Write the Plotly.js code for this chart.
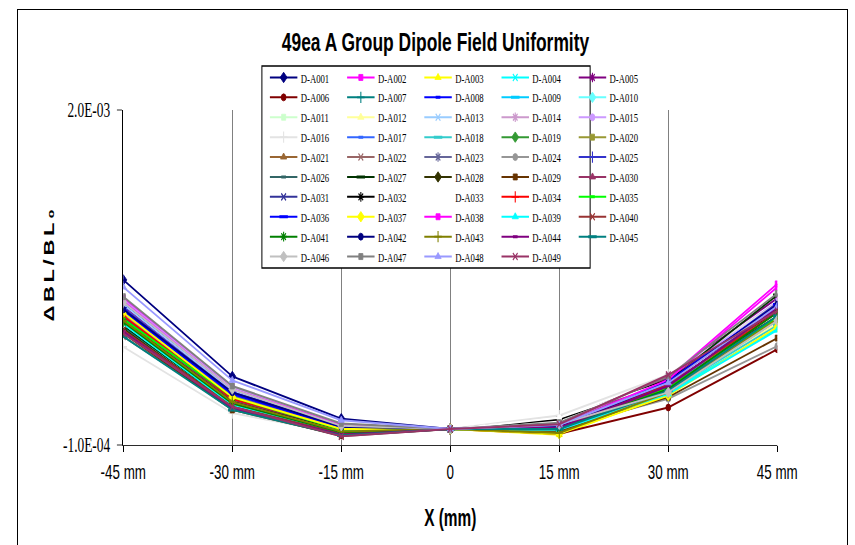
<!DOCTYPE html>
<html><head><meta charset="utf-8">
<script src="https://cdn.plot.ly/plotly-3.0.1.min.js"></script>
<style>
html,body{margin:0;padding:0;overflow:hidden;background:#fff;width:855px;height:545px;}
#wrap{position:absolute;left:0;top:0;width:1276px;height:545px;transform:scaleX(0.670063);transform-origin:0 0;}
#chart{width:1276px;height:545px;}
#frame{position:absolute;left:17px;top:9px;width:831px;height:600px;border:1px solid #000;box-sizing:border-box;pointer-events:none;}
</style></head><body>
<div id="wrap"><div id="chart"></div></div>
<div id="frame"></div>
<script>
// ---- data ----
const xLabels = ['-45 mm', '-30 mm', '-15 mm', '0', '15 mm', '30 mm', '45 mm'];
const yTickVals = [-1.0e-4, 2.0e-3];
const yTickText = ['-1.0E-04', '2.0E-03'];

const seriesNames = [
  'D-A001','D-A002','D-A003','D-A004','D-A005','D-A006','D-A007','D-A008','D-A009','D-A010',
  'D-A011','D-A012','D-A013','D-A014','D-A015','D-A016','D-A017','D-A018','D-A019','D-A020',
  'D-A021','D-A022','D-A023','D-A024','D-A025','D-A026','D-A027','D-A028','D-A029','D-A030',
  'D-A031','D-A032','D-A033','D-A034','D-A035','D-A036','D-A037','D-A038','D-A039','D-A040',
  'D-A041','D-A042','D-A043','D-A044','D-A045','D-A046','D-A047','D-A048','D-A049'
];

// values at each x position, one entry per series (D-A001 ... D-A049)
const valsM45 = [
  9.35e-4, 8.20e-4, 7.00e-4, 7.30e-4, 7.70e-4, 7.40e-4, 6.40e-4, 7.90e-4, 7.20e-4, 7.50e-4,
  7.10e-4, 6.90e-4, 7.80e-4, 7.60e-4, 8.10e-4, 5.15e-4, 7.30e-4, 6.80e-4, 7.00e-4, 6.90e-4,
  6.60e-4, 5.80e-4, 7.40e-4, 7.20e-4, 7.60e-4, 6.70e-4, 6.50e-4, 6.30e-4, 6.00e-4, 6.90e-4,
  7.00e-4, 6.80e-4, 6.60e-4, 7.10e-4, 6.90e-4, 7.40e-4, 7.30e-4, 8.00e-4, 6.60e-4, 6.20e-4,
  6.70e-4, 7.50e-4, 6.80e-4, 6.10e-4, 5.80e-4, 7.95e-4, 8.30e-4, 8.90e-4, 6.00e-4
];
const valsM30 = [
  3.30e-4, 2.60e-4, 1.90e-4, 2.10e-4, 2.30e-4, 2.00e-4, 1.60e-4, 2.50e-4, 2.00e-4, 2.20e-4,
  1.80e-4, 1.70e-4, 2.40e-4, 2.30e-4, 2.60e-4, 1.00e-4, 2.00e-4, 1.70e-4, 1.80e-4, 1.60e-4,
  1.50e-4, 1.30e-4, 2.10e-4, 1.90e-4, 2.30e-4, 1.60e-4, 1.50e-4, 1.40e-4, 1.20e-4, 1.80e-4,
  1.90e-4, 1.70e-4, 1.60e-4, 1.90e-4, 2.00e-4, 2.20e-4, 2.00e-4, 2.50e-4, 1.50e-4, 1.40e-4,
  1.60e-4, 2.30e-4, 1.70e-4, 1.30e-4, 1.20e-4, 2.50e-4, 2.70e-4, 3.05e-4, 1.40e-4
];
const valsM15 = [
  0.65e-4, 0.20e-4, 0.00e-4, -0.10e-4, 0.10e-4, -0.10e-4, -0.20e-4, 0.30e-4, 0.00e-4, 0.10e-4,
  -0.10e-4, -0.20e-4, 0.20e-4, 0.15e-4, 0.30e-4, -0.30e-4, 0.00e-4, -0.15e-4, -0.05e-4, -0.25e-4,
  -0.30e-4, -0.45e-4, 0.05e-4, -0.05e-4, 0.20e-4, -0.20e-4, -0.25e-4, -0.30e-4, -0.40e-4, -0.10e-4,
  0.00e-4, -0.10e-4, -0.15e-4, 0.05e-4, -0.05e-4, 0.10e-4, 0.00e-4, 0.25e-4, -0.20e-4, -0.30e-4,
  -0.20e-4, 0.15e-4, -0.15e-4, -0.35e-4, -0.40e-4, 0.20e-4, 0.35e-4, 0.55e-4, -0.45e-4
];
const vals0 = [
  0, 0, 0, 0, 0, 0, 0, 0, 0, 0,
  0, 0, 0, 0, 0, 0, 0, 0, 0, 0,
  0, 0, 0, 0, 0, 0, 0, 0, 0, 0,
  0, 0, 0, 0, 0, 0, 0, 0, 0, 0,
  0, 0, 0, 0, 0, 0, 0, 0, 0
];
const vals15 = [
  0.20e-4, 0.10e-4, -0.35e-4, 0.00e-4, 0.15e-4, -0.30e-4, 0.10e-4, 0.20e-4, 0.05e-4, 0.30e-4,
  0.35e-4, 0.20e-4, 0.25e-4, 0.30e-4, 0.25e-4, 0.85e-4, 0.10e-4, 0.05e-4, 0.00e-4, -0.20e-4,
  0.00e-4, 0.10e-4, 0.15e-4, 0.05e-4, 0.20e-4, 0.10e-4, 0.00e-4, 0.05e-4, -0.10e-4, 0.15e-4,
  0.20e-4, 0.60e-4, 0.70e-4, 0.10e-4, 0.05e-4, 0.20e-4, -0.30e-4, 0.20e-4, -0.05e-4, 0.00e-4,
  0.05e-4, 0.15e-4, -0.25e-4, 0.10e-4, 0.00e-4, 0.30e-4, 0.40e-4, 0.25e-4, 0.30e-4
];
const vals30 = [
  2.90e-4, 3.20e-4, 2.20e-4, 2.30e-4, 3.30e-4, 1.35e-4, 2.60e-4, 2.80e-4, 2.50e-4, 2.70e-4,
  2.90e-4, 2.60e-4, 2.80e-4, 3.00e-4, 3.10e-4, 3.40e-4, 2.70e-4, 2.40e-4, 2.50e-4, 2.30e-4,
  2.40e-4, 2.50e-4, 2.90e-4, 1.90e-4, 2.90e-4, 2.60e-4, 3.00e-4, 2.50e-4, 2.00e-4, 3.20e-4,
  2.80e-4, 3.10e-4, 3.00e-4, 2.80e-4, 2.60e-4, 3.00e-4, 2.10e-4, 3.10e-4, 2.20e-4, 2.70e-4,
  2.50e-4, 2.90e-4, 2.30e-4, 2.70e-4, 2.40e-4, 2.30e-4, 3.30e-4, 2.90e-4, 3.40e-4
];
const vals45 = [
  7.60e-4, 9.10e-4, 7.20e-4, 6.30e-4, 8.20e-4, 5.00e-4, 7.00e-4, 7.50e-4, 6.90e-4, 7.30e-4,
  7.60e-4, 6.60e-4, 7.40e-4, 7.70e-4, 8.00e-4, 7.90e-4, 7.30e-4, 6.50e-4, 7.00e-4, 7.80e-4,
  6.80e-4, 6.90e-4, 7.70e-4, 5.20e-4, 7.60e-4, 7.10e-4, 8.40e-4, 7.20e-4, 5.70e-4, 7.50e-4,
  7.90e-4, 7.40e-4, 7.20e-4, 7.30e-4, 7.00e-4, 7.80e-4, 6.40e-4, 8.90e-4, 6.20e-4, 7.50e-4,
  7.30e-4, 7.80e-4, 6.90e-4, 7.60e-4, 7.10e-4, 6.80e-4, 8.50e-4, 7.70e-4, 7.40e-4
];

// ---- styles ----
const seriesColors = [
  '#000080','#FF00FF','#FFFF00','#00FFFF','#800080','#800000','#008080','#0000FF','#00CCFF','#66FFFF',
  '#CCFFCC','#FFFF99','#99CCFF','#CC99CC','#CC99FF','#E3E3E3','#3366FF','#33CCCC','#339933','#999933',
  '#996633','#996666','#666699','#969696','#3333CC','#336666','#003300','#333300','#663300','#993366',
  '#333399','#000000','#FFFFFF','#FF0000','#00FF00','#0000FF','#FFFF00','#FF00FF','#00FFFF','#993333',
  '#008000','#000080','#808000','#800080','#008080','#C0C0C0','#808080','#9999FF','#993366'
];
const markerCycle = [
  {symbol:'diamond', size:8, lw:1},
  {symbol:'square', size:6, lw:1},
  {symbol:'triangle-up', size:8, lw:1},
  {symbol:'x-thin-open', size:7, lw:1.6},
  {symbol:'asterisk-open', size:8, lw:1.6},
  {symbol:'circle', size:7, lw:1},
  {symbol:'cross-thin-open', size:8, lw:1.6},
  {symbol:'line-ew-open', size:5, lw:3},
  {symbol:'line-ew-open', size:9, lw:3}
];

// ---- geometry (inner, unscaled px) ----
const SX = 0.670063, W = 1276, H = 545;
const L = 123.5 / SX, Rgt = 777 / SX;
const T = 110, Bt = 445;
const plotW = Rgt - L, plotH = Bt - T;
const px2x = p => (p - L) / plotW;
const px2y = p => (Bt - p) / plotH;

const traces = seriesNames.map((name, i) => {
  const m = markerCycle[i % markerCycle.length];
  const c = seriesColors[i];
  return {
    type: 'scatter', mode: 'lines+markers', name: name,
    x: xLabels,
    y: [valsM45[i], valsM30[i], valsM15[i], vals0[i], vals15[i], vals30[i], vals45[i]],
    line: {color: c, width: 2},
    marker: {symbol: m.symbol, size: m.size, color: c, line: {color: c, width: m.lw}},
    legend: (i % 5 === 0) ? 'legend' : 'legend' + (i % 5 + 1)
  };
});

const sp = '\u2006';
const lead = '\u00A0\u00A0\u00A0\u00A0';
const layout = {
  width: W, height: H,
  margin: {l: L, r: W - Rgt, t: T, b: H - Bt, pad: 0},
  paper_bgcolor: '#fff', plot_bgcolor: '#fff',
  showlegend: true,
  title: {
    text: '<b>49ea A Group Dipole Field Uniformity</b>',
    font: {family: 'Liberation Sans, Arial, sans-serif', size: 26, color: '#000'},
    xref: 'container', x: 435.5 / 855, xanchor: 'center',
    yref: 'container', y: 1 - 42 / 545, yanchor: 'middle'
  },
  xaxis: {
    type: 'category', range: [0, 6], fixedrange: true,
    showgrid: true, gridcolor: '#808080', gridwidth: 2.2,
    showline: true, linecolor: '#000', linewidth: 1,
    ticks: 'outside', ticklen: 6, tickwidth: 2, tickcolor: '#000',
    tickfont: {family: 'Liberation Sans, Arial, sans-serif', size: 20, color: '#000'},
    ticklabelstandoff: 3,
    zeroline: false, automargin: false,
    title: {text: '<b>X (mm)</b>', font: {family: 'Liberation Sans, Arial, sans-serif', size: 23, color: '#000'}, standoff: 27}
  },
  yaxis: {
    range: [-1.0e-4, 2.0e-3], fixedrange: true,
    tickmode: 'array', tickvals: yTickVals, ticktext: yTickText,
    showgrid: false, zeroline: false,
    showline: true, linecolor: '#000', linewidth: 2,
    ticks: 'outside', ticklen: 7.5, tickwidth: 1, tickcolor: '#000',
    tickfont: {family: 'Liberation Serif, Times New Roman, serif', size: 20, color: '#000'},
    ticklabelstandoff: 6,
    automargin: false,
    title: {text: '<b>' + lead + 'Δ' + sp + 'B' + sp + 'L' + sp + '/' + sp + 'B' + sp + 'L' + sp + '\u2080</b>',
            font: {family: 'Liberation Sans, DejaVu Sans, Arial, sans-serif', size: 22, color: '#000'}, standoff: 6}
  },
  shapes: [{
    type: 'rect', xref: 'paper', yref: 'paper', layer: 'above',
    x0: px2x(262 / SX), x1: px2x(590 / SX), y0: px2y(66), y1: px2y(268),
    line: {color: '#000', width: 1.5}, fillcolor: '#fff'
  }]
};

const colStart = 270 / SX, colStep = 77.15 / SX;
for (let c = 0; c < 5; c++) {
  const key = c === 0 ? 'legend' : 'legend' + (c + 1);
  layout[key] = {
    x: px2x(colStart + c * colStep - 5), xanchor: 'left',
    y: px2y(62.5), yanchor: 'top',
    orientation: 'v', bgcolor: 'rgba(0,0,0,0)', borderwidth: 0,
    itemwidth: 41, tracegroupgap: 0, traceorder: 'normal',
    font: {family: 'Liberation Serif, Times New Roman, serif', size: 13, color: '#000'}
  };
}

Plotly.newPlot('chart', traces, layout, {staticPlot: true, displayModeBar: false});
</script>
</body></html>
